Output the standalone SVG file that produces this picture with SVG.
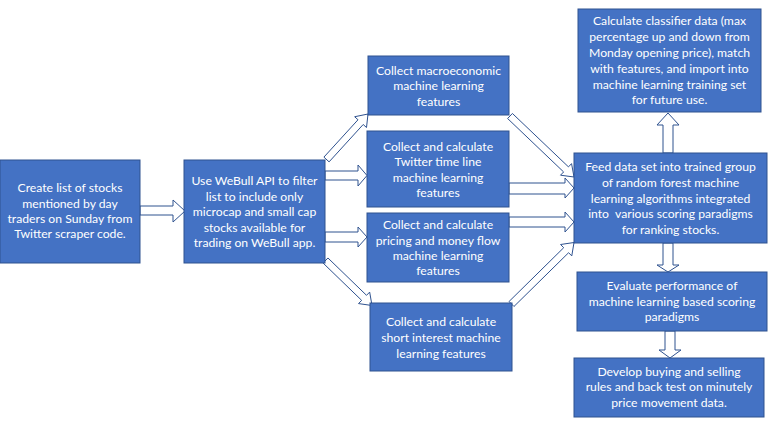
<svg xmlns="http://www.w3.org/2000/svg" width="772" height="431" viewBox="0 0 772 431">
<style>
.box{fill:#4472C4;stroke:#2F528F;stroke-width:1}
.arr{fill:#FFFFFF;stroke:#2F528F;stroke-width:1;stroke-linejoin:miter}
text{font-family:Lato,"Open Sans","Liberation Sans",sans-serif;font-size:12.2px;fill:#FFFFFF;text-anchor:middle;dominant-baseline:central}
</style>
<rect width="772" height="431" fill="#FFFFFF"/>
<g id="connectors">
<polygon class="arr" points="140,206 173,206 173,200 185,211 173,222 173,215 140,215"/>
<polygon class="arr" points="325,171 358,171 358,165 367,175.5 358,186 358,180 325,180"/>
<polygon class="arr" points="325,232 358,232 358,227 367,237 358,247 358,242 325,242"/>
<polygon class="arr" points="323.91,157.14 358.0,119.77 354.68,116.74 368,114 366.5,127.52 363.18,124.49 329.09,161.86"/>
<polygon class="arr" points="327.94,257.98 366.53,295.32 369.66,292.09 372,305.5 358.52,303.59 361.65,300.36 323.06,263.02"/>
<polygon class="arr" points="512.42,113.47 568.46,166.88 571.56,163.62 574,177 560.52,175.2 563.62,171.94 507.58,118.53"/>
<polygon class="arr" points="509.05,301.5 563.71,247.71 560.55,244.51 574,242.5 571.77,255.91 568.61,252.71 513.95,306.5"/>
<polygon class="arr" points="509,183 565,183 565,178 574,188 565,198 565,194 509,194"/>
<polygon class="arr" points="509,217 565,217 565,212 574,222 565,232 565,227 509,227"/>
<polygon class="arr" points="663,153 663,125 657,125 668,113 679,125 673,125 673,153"/>
<polygon class="arr" points="663,243 663,265 657,265 668,272 679,265 673,265 673,243"/>
<polygon class="arr" points="665,331 665,350 659,350 670,358 681,350 675,350 675,331"/>
</g>
<g id="n1">
<rect class="box" x="0" y="160" width="140" height="103"/>
<text x="70" y="187">Create list of stocks</text>
<text x="70" y="203">mentioned by day</text>
<text x="70" y="218">traders on Sunday from</text>
<text x="70" y="233">Twitter scraper code.</text>
</g>
<g id="n2">
<rect class="box" x="184" y="160" width="141" height="103"/>
<text x="254.5" y="180">Use WeBull API to filter</text>
<text x="254.5" y="196">list to include only</text>
<text x="254.5" y="211.5">microcap and small cap</text>
<text x="254.5" y="227">stocks available for</text>
<text x="254.5" y="242.5">trading on WeBull app.</text>
</g>
<g id="n3">
<rect class="box" x="368" y="56" width="141" height="59"/>
<text x="438.5" y="70">Collect macroeconomic</text>
<text x="438.5" y="85.7">machine learning</text>
<text x="438.5" y="101">features</text>
</g>
<g id="n4">
<rect class="box" x="367" y="131" width="142" height="76"/>
<text x="438" y="146">Collect and calculate</text>
<text x="438" y="161.7">Twitter time line</text>
<text x="438" y="177.3">machine learning</text>
<text x="438" y="192.7">features</text>
</g>
<g id="n5">
<rect class="box" x="367" y="213" width="142" height="69"/>
<text x="438" y="224">Collect and calculate</text>
<text x="438" y="240">pricing and money flow</text>
<text x="438" y="255.7">machine learning</text>
<text x="438" y="270.7">features</text>
</g>
<g id="n6">
<rect class="box" x="370" y="303" width="142" height="68"/>
<text x="441" y="321.7">Collect and calculate</text>
<text x="441" y="337.3">short interest machine</text>
<text x="441" y="353.3">learning features</text>
</g>
<g id="n7">
<rect class="box" x="578" y="9" width="183" height="103"/>
<text x="669.5" y="20.7">Calculate classifier data (max</text>
<text x="669.5" y="36.7">percentage up and down from</text>
<text x="669.5" y="52.3">Monday opening price), match</text>
<text x="669.5" y="68.3">with features, and import into</text>
<text x="669.5" y="84">machine learning training set</text>
<text x="669.5" y="99.3">for future use.</text>
</g>
<g id="n8">
<rect class="box" x="574" y="153" width="193" height="90"/>
<text x="670.5" y="166.7">Feed data set into trained group</text>
<text x="670.5" y="182.7">of random forest machine</text>
<text x="670.5" y="198.3">learning algorithms integrated</text>
<text x="670.5" y="213.3" xml:space="preserve">into  various scoring paradigms</text>
<text x="670.5" y="229.3">for ranking stocks.</text>
</g>
<g id="n9">
<rect class="box" x="577" y="272" width="190" height="59"/>
<text x="672" y="285">Evaluate performance of</text>
<text x="672" y="301">machine learning based scoring</text>
<text x="672" y="316">paradigms</text>
</g>
<g id="n10">
<rect class="box" x="574" y="358" width="190" height="59"/>
<text x="669" y="371">Develop buying and selling</text>
<text x="669" y="386.7">rules and back test on minutely</text>
<text x="669" y="402.7">price movement data.</text>
</g>
</svg>
